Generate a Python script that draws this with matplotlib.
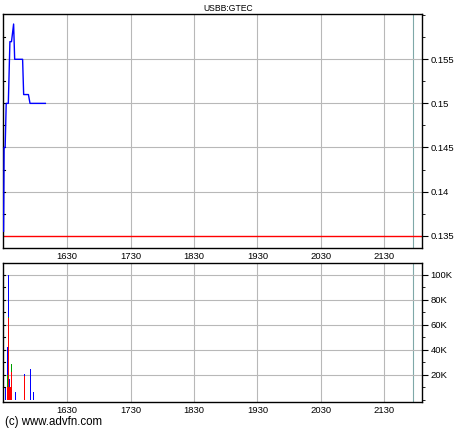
import matplotlib.pyplot as plt
from matplotlib.ticker import FixedLocator, MultipleLocator, FuncFormatter

# minutes after 15:30
price_t = [0, 0.5, 1.5, 2.5, 4.5, 6, 7.5, 9.5, 10.5, 18, 19, 23.5, 25, 39.5]
price = [0.1355, 0.145, 0.145, 0.150, 0.150, 0.157, 0.157, 0.159, 0.155,
         0.155, 0.151, 0.151, 0.150, 0.150]
prev_close = 0.135

# volume bars (blue drawn first, then green, then red on top)
vol_t = [1.7, 3.6, 4.5, 5.5, 6.5, 7.4, 11.2, 19.7, 25.3, 28.2]
vol_blue = [10000, 42000, 100000, 17000, 0, 0, 6500, 21000, 25000, 6000]
vol_green = [0, 20000, 66000, 0, 0, 29000, 0, 0, 0, 0]
vol_red = [0, 10000, 65000, 10000, 10000, 22000, 0, 19500, 0, 0]

tick_pos = [60, 120, 180, 240, 300, 360]
tick_lab = ['1630', '1730', '1830', '1930', '2030', '2130']

plt.rcParams['font.family'] = ['Liberation Sans', 'DejaVu Sans']
plt.rcParams['font.size'] = 6.8

fig = plt.figure(figsize=(4.6, 4.3), dpi=100)
ax1 = fig.add_axes([0.0059, 0.4233, 0.9121, 0.5434])
ax2 = fig.add_axes([0.0059, 0.0658, 0.9121, 0.3219])

grid_col = '#b8b8b8'
for ax in (ax1, ax2):
    ax.set_xlim(-0.8, 395.8)
    for x in tick_pos:
        ax.axvline(x, color=grid_col, lw=0.8, zorder=0)
    ax.axvline(387.5, color='#7fa8a8', lw=0.8, zorder=0)
    ax.xaxis.set_major_locator(FixedLocator(tick_pos))
    ax.set_xticklabels(tick_lab)
    ax.tick_params(axis='x', length=0, pad=3)
    ax.yaxis.tick_right()
    ax.tick_params(axis='y', which='major', direction='out', length=4,
                   right=True, left=False, pad=2)
    ax.tick_params(axis='y', which='minor', direction='out', length=2,
                   right=True, left=False)
    for s in ax.spines.values():
        s.set_linewidth(1.0)

# price panel
ax1.set_ylim(0.1336, 0.1601)
ax1.yaxis.set_major_locator(FixedLocator([0.135, 0.14, 0.145, 0.15, 0.155]))
ax1.yaxis.set_minor_locator(MultipleLocator(0.0025))
ax1.set_yticklabels(['0.135', '0.14', '0.145', '0.15', '0.155'])
for y in [0.14, 0.145, 0.15, 0.155]:
    ax1.axhline(y, color=grid_col, lw=0.8, zorder=0)
ax1.axhline(prev_close, color='red', lw=1.0, zorder=2)
ax1.plot(price_t, price, color='#0000ff', lw=1.0, zorder=3)
for y in [0.1375, 0.14, 0.1425, 0.145, 0.1475, 0.15, 0.1525, 0.155, 0.1575]:
    ax1.plot([-0.8, 1.2], [y, y], color='black', lw=0.8, clip_on=False)

# volume panel
ax2.set_ylim(-1400, 109000)
ax2.yaxis.set_major_locator(FixedLocator([20000, 40000, 60000, 80000, 100000]))
ax2.yaxis.set_minor_locator(MultipleLocator(10000))
ax2.yaxis.set_major_formatter(FuncFormatter(lambda v, p: '%dK' % (v / 1000)))
for y in [20000, 40000, 60000, 80000, 100000]:
    ax2.axhline(y, color=grid_col, lw=0.8, zorder=0)
ax2.bar(vol_t, vol_blue, width=1.0, color='#0000ff', zorder=2)
ax2.bar(vol_t, vol_green, width=1.0, color='#00a000', zorder=3)
ax2.bar(vol_t, vol_red, width=1.0, color='#ff0000', zorder=4)
for y in range(10000, 110000, 10000):
    ax2.plot([-0.8, 1.2], [y, y], color='black', lw=0.8, clip_on=False)

fig.text(0.497, 0.981, 'USBB:GTEC', ha='center', va='center', fontsize=6.2)
fig.text(0.011, 0.018, '(c) www.advfn.com', ha='left', va='center',
         fontsize=8.3)

fig.savefig('out.png', dpi=100)
